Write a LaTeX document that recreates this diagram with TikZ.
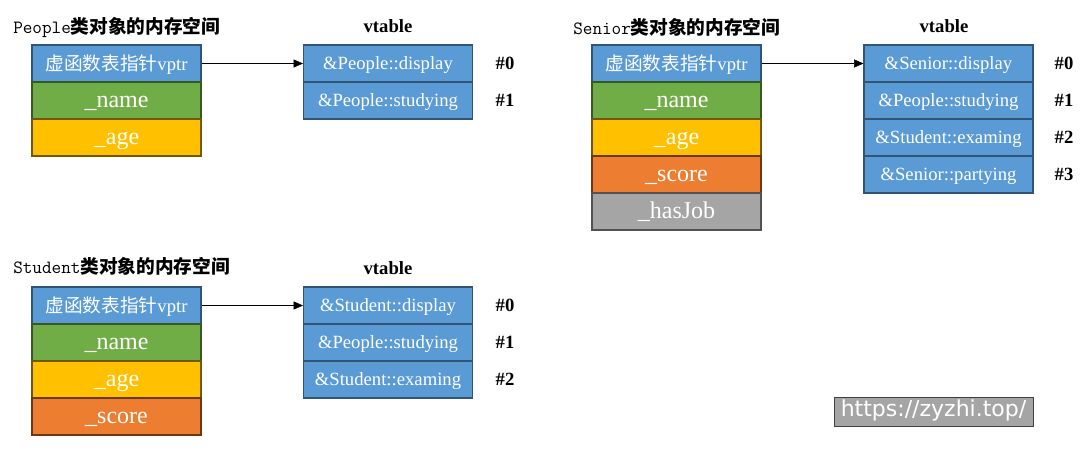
\documentclass[tikz,border=0pt]{standalone}
\usepackage{fontspec}
\setmainfont{Liberation Serif}
\newfontfamily\cjk{Noto Sans CJK SC}
\newfontfamily\titlemono{Latin Modern Mono}
\newfontfamily\wmfont{DejaVu Sans}
\usetikzlibrary{arrows.meta}
\usepackage{xcolor}
\definecolor{cblue}{HTML}{5B9BD5}
\definecolor{cgreen}{HTML}{70AD47}
\definecolor{cyellow}{HTML}{FFC000}
\definecolor{corange}{HTML}{ED7D31}
\definecolor{cgray}{HTML}{A5A5A5}

\begin{document}
\begin{tikzpicture}[x=0.75pt,y=-0.75pt,>={Triangle[length=7pt,width=6pt]}]
\tikzset{
    cell/.style={%
        rectangle, thick,
        minimum height=27.75pt,
        minimum width=126.75pt,
        inner sep=0pt,
        text height=9.5pt,
        text depth=0pt,
        text=white,
        font=\fontsize{14}{16}\selectfont
        },
    objcell/.style={%
        cell,
        text height=11pt,
        font=\fontsize{18}{20}\selectfont
        },
    ptr/.style={cell, text height=11pt, fill=cblue, draw=cblue!55!black},
    nam/.style={objcell, fill=cgreen, draw=cgreen!50!black},
    age/.style={objcell, fill=cyellow, draw=cyellow!45!black},
    sco/.style={objcell, fill=corange, draw=corange!45!black},
    job/.style={objcell, fill=cgray, draw=cgray!50!black},
    vt/.style={cell, fill=cblue, draw=cblue!55!black},
    title/.style={anchor=west, inner sep=0pt, font=\fontsize{14}{16}\selectfont\bfseries},
    head/.style={inner sep=0pt, font=\fontsize{14}{16}\selectfont\bfseries},
    idx/.style={inner sep=0pt, font=\fontsize{14}{16}\selectfont\bfseries},
}
\useasboundingbox (0,0) rectangle (1087,449);
%%%PEOPLE
\node[title] (tpeo) at (13,27) {{\titlemono\mdseries People}{\cjk 类对象的内存空间}};
\node[ptr] (peo0) at (116.5,63.5) {{\cjk 虚函数表指针}vptr};
\node[nam] (peo1) at (116.5,100.5) {\_name};
\node[age] (peo2) at (116.5,137.5) {\_age};
\node[head] (hpeo) at (388,26) {vtable};
\node[vt] (vpeo0) at (388,63.5) {\&People::display};
\node[vt] (vpeo1) at (388,100.5) {\&People::studying};
\node[idx] (ipeo0) at (505,63.5) {\#0};
\node[idx] (ipeo1) at (505,100.5) {\#1};
%%%STUDENT
\node[title] (tstu) at (13,266) {{\titlemono\mdseries Student}{\cjk 类对象的内存空间}};
\node[ptr] (stu0) at (116.5,305.5) {{\cjk 虚函数表指针}vptr};
\node[nam] (stu1) at (116.5,342.5) {\_name};
\node[age] (stu2) at (116.5,379.5) {\_age};
\node[sco] (stu3) at (116.5,416.5) {\_score};
\node[head] (hstu) at (388,268) {vtable};
\node[vt] (vstu0) at (388,305.5) {\&Student::display};
\node[vt] (vstu1) at (388,342.5) {\&People::studying};
\node[vt] (vstu2) at (388,379.5) {\&Student::examing};
\node[idx] (istu0) at (505,305.5) {\#0};
\node[idx] (istu1) at (505,342.5) {\#1};
\node[idx] (istu2) at (505,379.5) {\#2};
%%%SENIOR
\node[title] (tsen) at (573,27) {{\titlemono\mdseries Senior}{\cjk 类对象的内存空间}};
\node[ptr] (sen0) at (676.5,63.5) {{\cjk 虚函数表指针}vptr};
\node[nam] (sen1) at (676.5,100.5) {\_name};
\node[age] (sen2) at (676.5,137.5) {\_age};
\node[sco] (sen3) at (676.5,174.5) {\_score};
\node[job] (sen4) at (676.5,211.5) {\_hasJob};
\node[head] (hsen) at (944,26) {vtable};
\node[vt] (vsen0) at (948.5,63.5) {\&Senior::display};
\node[vt] (vsen1) at (948.5,100.5) {\&People::studying};
\node[vt] (vsen2) at (948.5,137.5) {\&Student::examing};
\node[vt] (vsen3) at (948.5,174.5) {\&Senior::partying};
\node[idx] (isen0) at (1064,63.5) {\#0};
\node[idx] (isen1) at (1064,100.5) {\#1};
\node[idx] (isen2) at (1064,137.5) {\#2};
\node[idx] (isen3) at (1064,174.5) {\#3};
%%%POINTERS
\draw[->] (peo0.east) -- (vpeo0.west);
\draw[->] (stu0.east) -- (vstu0.west);
\draw[->] (sen0.east) -- (vsen0.west);
%%%WATERMARK
\node[fill=cgray, draw=black!75, semithick, text=white, minimum width=149.25pt,
      minimum height=21.75pt, inner sep=0pt, text height=0.75em, text depth=0.05em,
      font=\wmfont\fontsize{16.5}{18}\selectfont]
      (wm) at (933.5,411.5) {https://zyzhi.top/};
\end{tikzpicture}
\end{document}
